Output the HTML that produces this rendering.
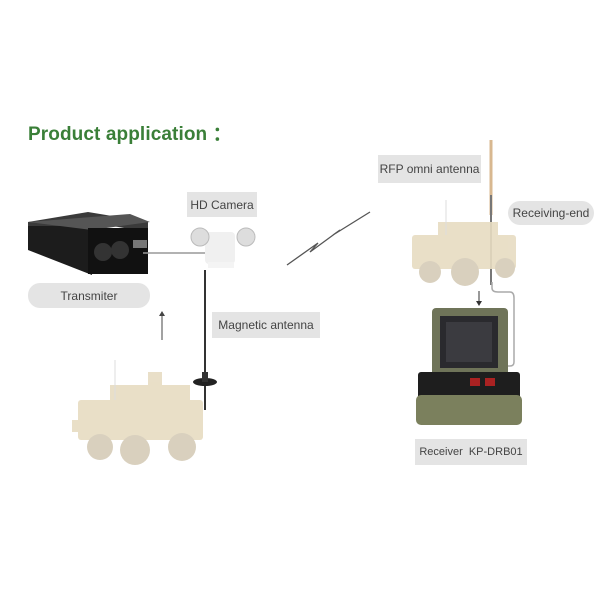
<!DOCTYPE html>
<html><head><style>
body{margin:0;width:600px;height:600px;background:#fff;position:relative;overflow:hidden;font-family:"Liberation Sans",sans-serif}
.a{position:absolute}
.lb{position:absolute;background:#e4e4e4;color:#444;font-size:12px;display:flex;align-items:center;justify-content:center;white-space:nowrap}
</style></head><body>
<div class="a" style="left:28px;top:119px;font-size:19px;font-weight:bold;color:#3a7f38;letter-spacing:0.1px">Product application ：</div>
<svg class="a" style="left:0;top:0" width="600" height="600">
<polygon points="28,222 88,212 148,222 148,232 88,222 28,232" fill="#3a3a3a"/>
<polygon points="28,226 92,226 92,275 28,250" fill="#1c1c1c"/>
<polygon points="28,222 130,214 150,222 92,230" fill="#555"/>
<rect x="88" y="228" width="60" height="46" fill="#111"/>
<circle cx="103" cy="252" r="9" fill="#333"/><circle cx="120" cy="250" r="9" fill="#333"/>
<rect x="133" y="240" width="14" height="8" fill="#777"/>
<line x1="143" y1="253" x2="212" y2="253" stroke="#999" stroke-width="1.5"/>
<rect x="205" y="232" width="30" height="32" rx="4" fill="#f0f0f0"/>
<circle cx="200" cy="237" r="9" fill="#ddd" stroke="#bbb"/><circle cx="246" cy="237" r="9" fill="#ddd" stroke="#bbb"/>
<rect x="208" y="262" width="26" height="6" fill="#f4f4f4"/>
<line x1="205" y1="270" x2="205" y2="410" stroke="#333" stroke-width="2"/>
<ellipse cx="205" cy="382" rx="12" ry="4" fill="#222"/>
<rect x="202" y="372" width="6" height="10" fill="#333"/>
<line x1="162" y1="340" x2="162" y2="315" stroke="#444" stroke-width="1"/>
<polygon points="159,316 165,316 162,311" fill="#444"/>
<g fill="#e7dcc2" opacity="0.9">
<rect x="78" y="400" width="125" height="40" rx="3"/>
<rect x="110" y="385" width="80" height="20"/>
<rect x="72" y="420" width="40" height="12"/>
<circle cx="100" cy="447" r="13" fill="#d5ccb8"/><circle cx="135" cy="450" r="15" fill="#d5ccb8"/><circle cx="182" cy="447" r="14" fill="#d5ccb8"/>
<rect x="148" y="372" width="14" height="14"/>
</g>
<line x1="115" y1="400" x2="115" y2="360" stroke="#ddd"/>
<polyline points="287,265 318,243 310,252 340,230 333,235 370,212" fill="none" stroke="#555" stroke-width="1.3"/>
<line x1="491" y1="140" x2="491" y2="215" stroke="#d8b890" stroke-width="3"/>
<line x1="491" y1="195" x2="491" y2="285" stroke="#777" stroke-width="2"/>
<path d="M492 282 L492 288 Q492 292 498 292 L510 292 Q514 292 514 298 L514 362 Q514 366 510 366 L500 366" fill="none" stroke="#aaa" stroke-width="1.5"/>
<g fill="#e7dcc2" opacity="0.9">
<rect x="412" y="235" width="104" height="34" rx="3"/>
<rect x="438" y="222" width="60" height="18"/>
<circle cx="430" cy="272" r="11" fill="#d5ccb8"/><circle cx="465" cy="272" r="14" fill="#d5ccb8"/><circle cx="505" cy="268" r="10" fill="#d5ccb8"/>
</g>
<line x1="446" y1="200" x2="446" y2="235" stroke="#ddd"/>
<line x1="479" y1="291" x2="479" y2="302" stroke="#333"/>
<polygon points="476,301 482,301 479,306" fill="#333"/>
<rect x="432" y="308" width="76" height="70" rx="4" fill="#6f7459"/>
<rect x="440" y="316" width="58" height="52" fill="#2a2a2e"/>
<rect x="446" y="322" width="46" height="40" fill="#3b3b40"/>
<rect x="418" y="372" width="102" height="30" rx="3" fill="#1e1e1e"/>
<rect x="416" y="395" width="106" height="30" rx="5" fill="#7b805d"/>
<rect x="470" y="378" width="10" height="8" fill="#a22"/><rect x="485" y="378" width="10" height="8" fill="#a22"/>
</svg>
<div class="lb" style="left:187px;top:192px;width:70px;height:25px">HD Camera</div>
<div class="lb" style="left:28px;top:283px;width:122px;height:25px;border-radius:12px">Transmiter</div>
<div class="lb" style="left:212px;top:312px;width:108px;height:26px">Magnetic antenna</div>
<div class="lb" style="left:378px;top:155px;width:103px;height:28px">RFP omni antenna</div>
<div class="lb" style="left:508px;top:201px;width:86px;height:24px;border-radius:12px">Receiving-end</div>
<div class="lb" style="left:415px;top:439px;width:112px;height:26px;font-size:11px">Receiver&nbsp; KP-DRB01</div>
</body></html>
